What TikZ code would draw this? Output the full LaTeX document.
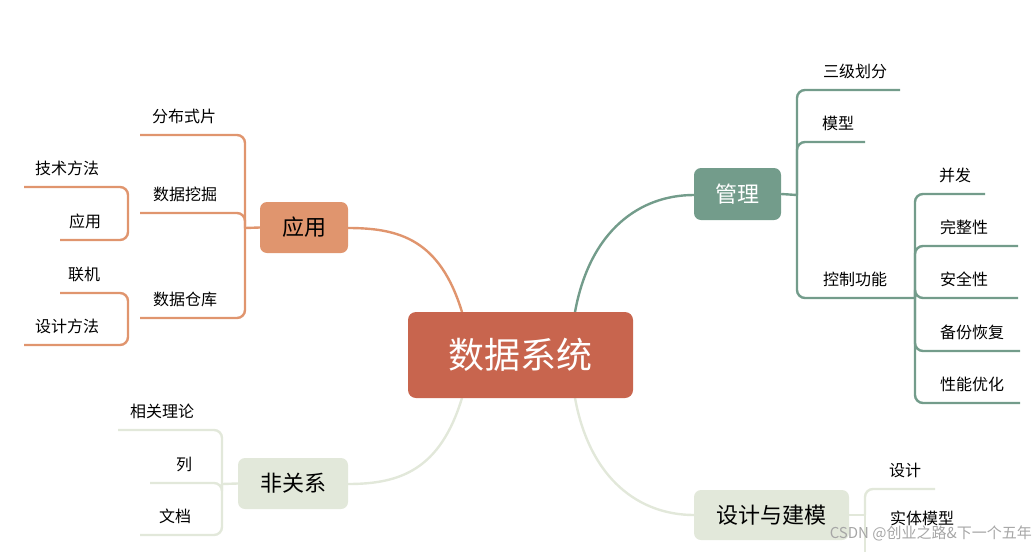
\documentclass[tikz,border=0pt]{standalone}
\usepackage{fontspec}
\setmainfont{Noto Sans CJK SC}
\begin{document}
\begin{tikzpicture}[x=1pt,y=-1pt,
  oc/.style={line width=2.4pt,color={rgb,255:red,224;green,149;blue,110}},
  tc/.style={line width=2.4pt,color={rgb,255:red,115;green,156;blue,139}},
  gc/.style={line width=2.4pt,color={rgb,255:red,226;green,232;blue,218}},
  sub/.style={font=\fontsize{16}{18}\selectfont,anchor=south,inner xsep=3pt,inner ysep=11pt},
  mainbox/.style={rounded corners=7pt,minimum height=51pt,inner sep=0pt,font=\fontsize{22}{24}\selectfont}]
\useasboundingbox (0,0) rectangle (1036,552);
\definecolor{cen}{RGB}{200,101,78}
\definecolor{app}{RGB}{224,149,110}
\definecolor{mgt}{RGB}{115,156,139}
\definecolor{lig}{RGB}{226,232,218}
% main connectors
\draw[oc] (462,312) .. controls (440,240) and (400,228) .. (348,228);
\draw[tc] (575,312) .. controls (590,230) and (640,195) .. (694,195);
\draw[gc] (462,398) .. controls (440,470) and (400,484) .. (348,484);
\draw[gc] (575,398) .. controls (590,480) and (640,515) .. (694,515);
% nodes
\node[fill=cen,text=white,rounded corners=8pt,minimum width=225pt,minimum height=86pt,font=\fontsize{36}{40}\selectfont] (c) at (520.5,355) {数据系统};
\node[mainbox,fill=mgt,text=white,minimum width=87pt,minimum height=52pt] (m) at (737.5,194) {管理};
\node[mainbox,fill=app,minimum width=88pt] (a) at (304,227.5) {应用};
\node[mainbox,fill=lig,minimum width=110pt] (n) at (293,483.5) {非关系};
\node[mainbox,fill=lig,minimum width=155pt,minimum height=50pt] (d) at (771.5,515) {设计与建模};
% 应用 branches
\coordinate (aj) at (245,228);
\draw[oc] (a.west) -- (aj);
\draw[oc,rounded corners=8] (aj) -- (245,135) -- (140,135);
\draw[oc,rounded corners=8] (aj) -- (245,213) -- (140,213);
\draw[oc,rounded corners=8] (aj) -- (245,318) -- (140,318);
\node[sub] (a1) at (184,135) {分布式片};
\node[sub] (a2) at (185,213) {数据挖掘};
\node[sub] (a3) at (185,318) {数据仓库};
\coordinate (bj) at (128,213);
\draw[oc,rounded corners=8] (bj) -- (128,187) -- (24,187);
\draw[oc,rounded corners=8] (bj) -- (128,240) -- (60,240);
\node[sub] (b1) at (67,187) {技术方法};
\node[sub] (b2) at (85,240) {应用};
\coordinate (cj) at (128,318);
\draw[oc,rounded corners=8] (cj) -- (128,293) -- (60,293);
\draw[oc,rounded corners=8] (cj) -- (128,345) -- (24,345);
\node[sub] (c1) at (84,293) {联机};
\node[sub] (c2) at (67,345) {设计方法};
% 管理 branches
\coordinate (mj) at (797,195);
\draw[tc] (m.east) -- (mj);
\draw[tc,rounded corners=8] (mj) -- (797,90) -- (900,90);
\draw[tc,rounded corners=8] (mj) -- (797,142) -- (865,142);
\draw[tc,rounded corners=8] (mj) -- (797,298) -- (915,298);
\node[sub] (m1) at (855,90) {三级划分};
\node[sub] (m2) at (838,142) {模型};
\node[sub] (m3) at (855,298) {控制功能};
\coordinate (kj) at (915,298);
\draw[tc,rounded corners=8] (kj) -- (915,194) -- (985,194);
\draw[tc,rounded corners=8] (kj) -- (915,246) -- (1018,246);
\draw[tc,rounded corners=8] (kj) -- (915,298) -- (1018,298);
\draw[tc,rounded corners=8] (kj) -- (915,351) -- (1020,351);
\draw[tc,rounded corners=8] (kj) -- (915,403) -- (1020,403);
\node[sub] (k1) at (955,194) {并发};
\node[sub] (k2) at (964,246) {完整性};
\node[sub] (k3) at (964,298) {安全性};
\node[sub] (k4) at (972,351) {备份恢复};
\node[sub] (k5) at (972,403) {性能优化};
% 非关系 branches
\coordinate (nj) at (222,484);
\draw[gc] (n.west) -- (nj);
\draw[gc,rounded corners=8] (nj) -- (222,430) -- (118,430);
\draw[gc,rounded corners=8] (nj) -- (222,483) -- (150,483);
\draw[gc,rounded corners=8] (nj) -- (222,535) -- (140,535);
\node[sub] (n1) at (162,430) {相关理论};
\node[sub] (n2) at (184,483) {列};
\node[sub] (n3) at (175,535) {文档};
% 设计与建模 branches
\coordinate (dj) at (865,515);
\draw[gc] (d.east) -- (dj);
\draw[gc,rounded corners=8] (dj) -- (865,489) -- (935,489);
\draw[gc] (dj) -- (865,552);
\node[sub] (d1) at (905,489) {设计};
\node[sub,inner ysep=0pt,anchor=center] (d2) at (922,518) {实体模型};
\node[font=\fontsize{15}{17}\selectfont,text=black!35,anchor=east,inner sep=0pt] (wm) at (1032,533) {CSDN @创业之路\&下一个五年};
\end{tikzpicture}
\end{document}
